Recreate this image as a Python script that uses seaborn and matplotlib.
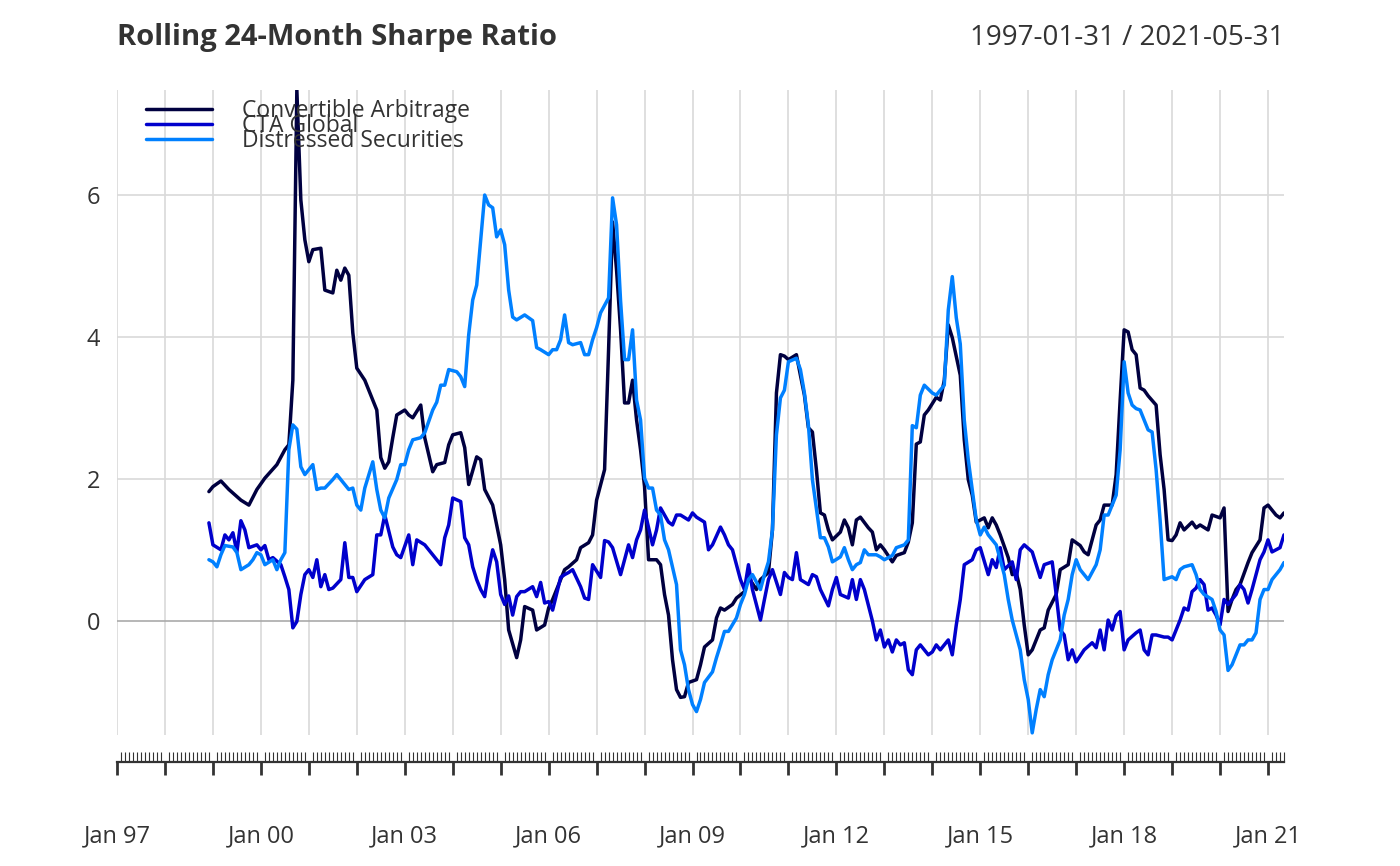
import matplotlib
matplotlib.use("Agg")
import matplotlib.pyplot as plt
from matplotlib.ticker import MultipleLocator
import seaborn as sns
import pandas as pd

# month index (0 = Jan 1997), value
conv_arb = [(23,1.82),(24,1.89),(26,1.97),(28,1.85),(31,1.70),(33,1.63),(35,1.85),(37,2.01),(40,2.20),(42,2.41),(43,2.48),(44,3.39),(45,7.48),(46,5.93),(47,5.37),(48,5.06),(49,5.23),(51,5.25),(52,4.66),(54,4.62),(55,4.94),(56,4.80),(57,4.97),(58,4.87),(59,4.06),(60,3.56),(62,3.39),(63,3.25),(65,2.97),(66,2.30),(67,2.15),(68,2.24),(69,2.58),(70,2.90),(72,2.97),(73,2.90),(74,2.86),(76,3.04),(77,2.58),(79,2.10),(80,2.20),(82,2.23),(83,2.48),(84,2.62),(86,2.65),(87,2.44),(88,1.92),(90,2.31),(91,2.27),(92,1.85),(94,1.63),(96,1.07),(97,0.58),(98,-0.13),(100,-0.52),(101,-0.27),(102,0.20),(104,0.15),(105,-0.13),(107,-0.06),(108,0.18),(109,0.30),(111,0.58),(112,0.72),(113,0.76),(115,0.86),(116,1.03),(118,1.10),(119,1.21),(120,1.70),(122,2.13),(123,3.82),(124,5.62),(125,4.94),(126,4.10),(127,3.07),(128,3.07),(129,3.39),(130,2.83),(131,2.41),(132,1.89),(133,0.86),(135,0.86),(136,0.79),(137,0.37),(138,0.08),(139,-0.55),(140,-0.97),(141,-1.08),(142,-1.07),(143,-0.87),(145,-0.83),(146,-0.62),(147,-0.37),(149,-0.27),(150,0.04),(151,0.18),(152,0.15),(154,0.23),(155,0.32),(157,0.41),(158,0.61),(160,0.44),(161,0.58),(163,0.68),(164,1.28),(165,3.21),(166,3.75),(167,3.73),(168,3.68),(170,3.75),(171,3.46),(172,3.18),(173,2.72),(174,2.66),(175,2.13),(176,1.52),(177,1.49),(178,1.28),(179,1.14),(181,1.25),(182,1.42),(183,1.31),(184,1.07),(185,1.42),(186,1.46),(188,1.31),(189,1.25),(190,1.00),(191,1.07),(192,1.00),(194,0.83),(195,0.92),(197,0.96),(198,1.11),(199,1.38),(200,2.49),(201,2.52),(202,2.90),(203,2.97),(205,3.15),(206,3.11),(207,3.39),(208,4.17),(209,3.99),(211,3.46),(212,2.55),(213,1.99),(214,1.77),(215,1.39),(217,1.45),(218,1.31),(219,1.45),(220,1.35),(221,1.21),(223,0.89),(224,0.65),(225,0.68),(226,0.44),(227,-0.06),(228,-0.48),(229,-0.41),(231,-0.13),(232,-0.10),(233,0.15),(235,0.37),(236,0.72),(238,0.79),(239,1.14),(241,1.06),(242,0.97),(243,0.93),(245,1.35),(246,1.42),(247,1.63),(249,1.63),(250,2.06),(251,3.11),(252,4.10),(253,4.07),(254,3.82),(255,3.75),(256,3.28),(257,3.25),(258,3.17),(260,3.04),(261,2.34),(262,1.85),(263,1.14),(264,1.13),(265,1.21),(266,1.38),(267,1.28),(269,1.39),(270,1.31),(271,1.35),(273,1.28),(274,1.49),(276,1.45),(277,1.59),(278,0.13),(279,0.30),(280,0.44),(281,0.51),(283,0.82),(284,0.96),(286,1.14),(287,1.59),(288,1.63),(290,1.49),(291,1.45),(292,1.52)]

cta_global = [(23,1.38),(24,1.07),(26,1.00),(27,1.21),(28,1.14),(29,1.24),(30,0.97),(31,1.41),(32,1.28),(33,1.03),(35,1.07),(36,1.00),(37,1.06),(38,0.86),(39,0.89),(41,0.79),(42,0.62),(43,0.44),(44,-0.10),(45,-0.01),(46,0.37),(47,0.65),(48,0.72),(49,0.61),(50,0.86),(51,0.48),(52,0.65),(53,0.44),(54,0.46),(56,0.58),(57,1.10),(58,0.61),(59,0.61),(60,0.41),(62,0.58),(64,0.65),(65,1.21),(66,1.21),(67,1.49),(69,1.04),(70,0.93),(71,0.89),(73,1.21),(74,0.79),(75,1.14),(77,1.07),(78,1.00),(79,0.93),(81,0.79),(82,1.17),(83,1.35),(84,1.73),(86,1.68),(87,1.17),(88,1.07),(89,0.76),(90,0.58),(91,0.44),(92,0.34),(93,0.72),(94,1.00),(95,0.83),(96,0.37),(97,0.23),(98,0.35),(99,0.08),(100,0.34),(101,0.41),(102,0.41),(104,0.48),(105,0.34),(106,0.54),(107,0.25),(108,0.27),(109,0.15),(111,0.61),(112,0.65),(113,0.68),(114,0.72),(116,0.48),(117,0.32),(118,0.30),(119,0.79),(121,0.61),(122,1.13),(123,1.11),(124,1.03),(126,0.65),(127,0.86),(128,1.07),(129,0.89),(130,1.14),(131,1.28),(132,1.56),(134,1.07),(135,1.28),(136,1.59),(138,1.39),(139,1.35),(140,1.49),(141,1.49),(143,1.42),(144,1.52),(145,1.46),(147,1.39),(148,1.00),(149,1.07),(151,1.32),(152,1.21),(153,1.07),(154,1.00),(156,0.58),(157,0.44),(158,0.79),(159,0.44),(161,0.01),(162,0.30),(163,0.58),(164,0.72),(166,0.37),(167,0.68),(168,0.61),(169,0.58),(170,0.96),(171,0.58),(173,0.51),(174,0.65),(175,0.62),(176,0.44),(178,0.21),(179,0.44),(180,0.61),(181,0.37),(183,0.32),(184,0.58),(185,0.30),(186,0.58),(187,0.44),(189,0.00),(190,-0.27),(191,-0.13),(192,-0.37),(193,-0.27),(194,-0.44),(195,-0.27),(196,-0.34),(197,-0.31),(198,-0.69),(199,-0.76),(200,-0.41),(201,-0.34),(203,-0.48),(204,-0.44),(205,-0.34),(206,-0.41),(208,-0.27),(209,-0.48),(210,-0.06),(211,0.30),(212,0.79),(214,0.86),(215,1.00),(216,1.03),(218,0.65),(219,0.86),(220,0.75),(221,1.03),(222,0.72),(224,0.83),(225,0.58),(226,1.00),(227,1.07),(229,0.97),(230,0.79),(231,0.61),(232,0.79),(234,0.83),(235,0.37),(236,-0.13),(237,-0.20),(238,-0.55),(239,-0.41),(240,-0.58),(242,-0.41),(244,-0.31),(245,-0.38),(246,-0.13),(247,-0.41),(248,0.01),(249,-0.13),(250,0.07),(251,0.13),(252,-0.41),(253,-0.27),(255,-0.17),(256,-0.13),(257,-0.41),(258,-0.48),(259,-0.20),(260,-0.20),(262,-0.23),(263,-0.23),(264,-0.27),(266,0.01),(267,0.18),(268,0.15),(269,0.41),(270,0.46),(271,0.58),(272,0.51),(273,0.15),(274,0.18),(275,0.08),(276,-0.06),(277,0.30),(278,0.23),(280,0.37),(281,0.51),(282,0.44),(283,0.25),(284,0.44),(285,0.65),(286,0.86),(287,0.97),(288,1.14),(289,0.97),(291,1.03),(292,1.21)]

distressed = [(23,0.86),(24,0.83),(25,0.76),(26,0.93),(27,1.06),(29,1.04),(30,0.96),(31,0.72),(33,0.79),(34,0.86),(35,0.96),(36,0.93),(37,0.79),(39,0.86),(40,0.72),(41,0.86),(42,0.96),(43,2.41),(44,2.76),(45,2.70),(46,2.17),(47,2.06),(48,2.13),(49,2.20),(50,1.85),(51,1.87),(52,1.87),(54,1.99),(55,2.06),(56,1.99),(58,1.85),(59,1.87),(60,1.63),(61,1.56),(62,1.87),(64,2.24),(65,1.85),(66,1.56),(67,1.45),(68,1.73),(70,1.99),(71,2.20),(72,2.20),(73,2.41),(74,2.55),(76,2.58),(77,2.65),(79,2.97),(80,3.08),(81,3.32),(82,3.32),(83,3.54),(85,3.51),(86,3.44),(87,3.30),(88,4.03),(89,4.52),(90,4.73),(91,5.37),(92,6.00),(93,5.86),(94,5.82),(95,5.41),(96,5.51),(97,5.30),(98,4.66),(99,4.28),(100,4.24),(102,4.31),(103,4.27),(104,4.23),(105,3.85),(106,3.82),(108,3.75),(109,3.82),(110,3.82),(111,3.96),(112,4.31),(113,3.92),(114,3.89),(116,3.92),(117,3.75),(118,3.75),(119,3.96),(120,4.13),(121,4.34),(123,4.55),(124,5.96),(125,5.58),(126,4.51),(127,3.68),(128,3.68),(129,4.10),(130,3.11),(131,2.83),(132,2.01),(133,1.87),(134,1.87),(135,1.56),(136,1.49),(137,1.14),(138,1.00),(140,0.51),(141,-0.41),(142,-0.62),(143,-0.97),(144,-1.18),(145,-1.28),(146,-1.11),(147,-0.87),(149,-0.72),(150,-0.52),(151,-0.34),(152,-0.15),(153,-0.15),(155,0.04),(156,0.23),(157,0.37),(158,0.58),(159,0.65),(161,0.44),(162,0.65),(163,0.83),(164,1.28),(165,2.62),(166,3.14),(167,3.25),(168,3.65),(170,3.70),(171,3.54),(172,3.21),(173,2.76),(174,1.99),(176,1.17),(177,1.17),(178,1.04),(179,0.83),(181,0.90),(182,1.03),(183,0.86),(184,0.72),(185,0.79),(186,0.82),(187,1.00),(188,0.93),(190,0.93),(191,0.90),(192,0.86),(194,0.92),(195,1.03),(197,1.07),(198,1.14),(199,2.75),(200,2.72),(201,3.18),(202,3.32),(204,3.21),(205,3.18),(207,3.32),(208,4.38),(209,4.85),(210,4.27),(211,3.90),(212,2.83),(213,2.27),(214,1.85),(215,1.42),(216,1.21),(217,1.32),(218,1.21),(220,1.07),(221,0.86),(222,0.65),(223,0.30),(224,0.01),(226,-0.41),(227,-0.83),(228,-1.11),(229,-1.58),(230,-1.25),(231,-0.97),(232,-1.07),(233,-0.76),(234,-0.55),(236,-0.27),(237,0.08),(238,0.30),(239,0.65),(240,0.86),(241,0.72),(242,0.65),(243,0.58),(245,0.79),(246,1.00),(247,1.49),(248,1.49),(250,1.77),(251,2.41),(252,3.65),(253,3.21),(254,3.04),(255,2.99),(256,2.97),(258,2.69),(259,2.66),(260,2.13),(261,1.42),(262,0.58),(264,0.62),(265,0.58),(266,0.72),(267,0.76),(269,0.79),(270,0.65),(271,0.44),(272,0.37),(274,0.30),(275,0.13),(276,-0.13),(277,-0.20),(278,-0.70),(279,-0.62),(280,-0.48),(281,-0.34),(282,-0.34),(283,-0.27),(284,-0.27),(285,-0.17),(286,0.30),(287,0.44),(288,0.44),(289,0.58),(290,0.65),(291,0.72),(292,0.82)]

series_names = ["Convertible Arbitrage", "CTA Global", "Distressed Securities"]
series_colors = ["#000040", "#0000CC", "#0080FF"]
year_labels = ["Jan 97", "Jan 00", "Jan 03", "Jan 06", "Jan 09", "Jan 12", "Jan 15", "Jan 18", "Jan 21"]

frames = []
for name, data in zip(series_names, [conv_arb, cta_global, distressed]):
    d = pd.DataFrame(data, columns=["month", "value"])
    d["series"] = name
    frames.append(d)
df = pd.concat(frames, ignore_index=True)

sns.set_theme(style="white")
plt.rcParams["font.family"] = ["Open Sans", "DejaVu Sans"]
txt = "#333333"

fig = plt.figure(figsize=(14, 8.66), dpi=100)
ax = fig.add_axes([117/1400, 1-735/866, (1284-117)/1400, (735-90)/866])
for i in range(0, 293, 12):
    ax.axvline(i, color="#D9D9D9", lw=1.2, zorder=0)
for yv in [2, 4, 6]:
    ax.axhline(yv, color="#D9D9D9", lw=1.2, zorder=0)
ax.axhline(0, color="#AAAAAA", lw=1.2, zorder=0.5)

sns.lineplot(data=df, x="month", y="value", hue="series", palette=series_colors,
             hue_order=series_names, ax=ax, lw=2.5, estimator=None, sort=False)
ax.set_xlim(0, 292)
ax.set_ylim(-1.61, 7.48)
ax.set_xlabel(""); ax.set_ylabel("")
ax.set_xticks([])
ax.set_yticks([0, 2, 4, 6])
ax.tick_params(axis="y", length=0, labelsize=17, labelcolor=txt, pad=12)
for s in ax.spines.values():
    s.set_visible(False)
ax.legend(loc="upper left", bbox_to_anchor=(0.017, 1.0), frameon=False, fontsize=16.5,
          labelspacing=-0.4, handlelength=2.9, handletextpad=1.3, borderaxespad=0,
          labelcolor=txt)

# lower time axis
ax2 = fig.add_axes([117/1400, 1-762/866, (1284-117)/1400, 0.0001])
ax2.set_xlim(0, 292)
ax2.set_yticks([])
for k in ["top", "left", "right"]:
    ax2.spines[k].set_visible(False)
ax2.spines["bottom"].set_color("#333333")
ax2.spines["bottom"].set_linewidth(1.6)
ax2.set_xticks(range(0, 293, 12))
ax2.set_xticklabels([year_labels[i // 3] if i % 3 == 0 else "" for i in range(25)])
ax2.xaxis.set_minor_locator(MultipleLocator(1))
ax2.tick_params(axis="x", which="both", bottom=True)
ax2.tick_params(axis="x", which="major", direction="out", length=9, width=2, color="#333333",
                labelsize=17, labelcolor=txt, pad=36)
ax2.tick_params(axis="x", which="minor", direction="in", length=7, width=0.8, color="#333333")

fig.text(117/1400, 1-38/866, "Rolling 24-Month Sharpe Ratio", fontsize=21, fontweight="bold",
         color=txt, va="center", ha="left")
fig.text(1284/1400, 1-38/866, "1997-01-31 / 2021-05-31", fontsize=20, color=txt,
         va="center", ha="right")

fig.savefig("out.png", dpi=100)
